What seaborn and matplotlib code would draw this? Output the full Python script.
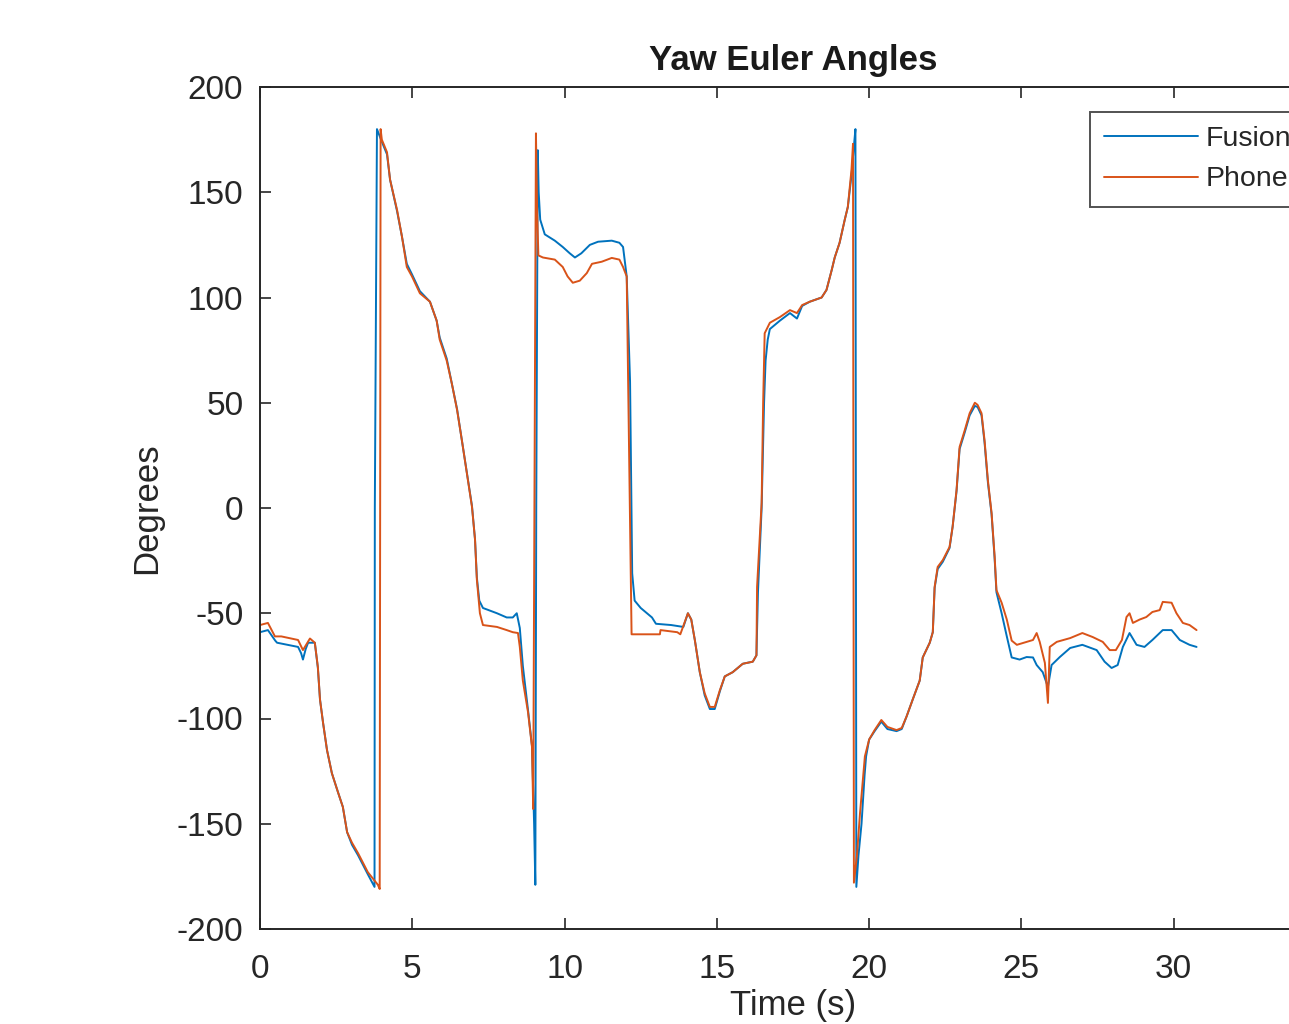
import numpy as np
import pandas as pd
import matplotlib
matplotlib.use("Agg")
import matplotlib.pyplot as plt
import seaborn as sns

# Yaw angle traces (time in s, angle in degrees)
fusion_t = [0.0, 0.26, 0.5, 0.56, 0.9, 1.25, 1.35, 1.41, 1.5, 1.58, 1.8, 1.9, 1.97, 2.07, 2.2, 2.36,
            2.56, 2.72, 2.86, 3.02, 3.22, 3.54, 3.76, 3.77, 3.84, 4.0, 4.17, 4.27, 4.5, 4.66, 4.82,
            4.99, 5.25, 5.58, 5.8, 5.9, 6.13, 6.3, 6.47, 6.63, 6.79, 6.96, 7.06, 7.12, 7.2, 7.32,
            7.78, 8.1, 8.3, 8.43, 8.53, 8.63, 8.8, 8.93, 9.0, 9.04, 9.07, 9.12, 9.15, 9.2, 9.35,
            9.68, 9.94, 10.17, 10.34, 10.55, 10.83, 11.1, 11.55, 11.8, 11.92, 12.04, 12.15, 12.22,
            12.3, 12.5, 12.87, 13.0, 13.5, 13.9, 14.05, 14.16, 14.28, 14.44, 14.6, 14.77, 14.93,
            15.1, 15.26, 15.52, 15.85, 16.18, 16.3, 16.35, 16.47, 16.55, 16.6, 16.67, 16.74, 17.07,
            17.4, 17.63, 17.8, 18.05, 18.44, 18.6, 18.77, 18.87, 19.03, 19.2, 19.3, 19.42, 19.5,
            19.55, 19.58, 19.65, 19.75, 19.85, 19.9, 20.0, 20.18, 20.4, 20.6, 20.9, 21.07, 21.23,
            21.43, 21.66, 21.76, 21.99, 22.09, 22.15, 22.25, 22.42, 22.64, 22.74, 22.87, 22.97,
            23.14, 23.3, 23.47, 23.56, 23.69, 23.79, 23.9, 24.02, 24.12, 24.18, 24.35, 24.52, 24.68,
            24.94, 25.17, 25.38, 25.5, 25.7, 25.87, 25.99, 26.26, 26.6, 27.0, 27.47, 27.73, 27.96,
            28.16, 28.33, 28.55, 28.78, 29.04, 29.3, 29.64, 29.93, 30.2, 30.52, 30.75]
fusion_deg = [-59, -58, -63, -64, -65, -66, -69, -72, -67, -64, -64, -76, -91, -102, -115, -126,
              -135, -142, -154, -160, -165, -174, -180, 0, 180, 174, 168, 156, 141, 129, 116,
              111, 103, 98, 89, 81, 71, 59, 47, 32, 17, 1, -15, -33, -44, -47.5,
              -50, -52, -52, -50, -57, -75, -96, -113, -150, -179, 0, 170, 150, 137, 130,
              127, 124, 121, 119, 121, 125, 126.5, 127, 126, 124, 110, 60, -31,
              -44, -47.5, -52, -55, -55.6, -56.5, -50, -53, -63, -78, -89, -95.5, -95.5,
              -87, -80, -78, -74, -73, -70, -40, 0, 50, 70, 80, 85, 89,
              92.6, 90, 96, 98, 100, 103.6, 113, 119, 126, 137, 143, 158, 172,
              180, -180, -165, -150, -127, -118, -110, -106, -101.5, -105, -106, -105, -99,
              -91, -82, -71, -64, -59, -38, -29, -25.5, -19, -9, 8, 28,
              36, 44, 48.5, 48, 44, 31, 12, -3, -24, -40, -50, -61, -71,
              -72, -70.8, -71, -74.6, -78, -85, -74.6, -70.8, -66.5, -65, -67.5, -73, -76,
              -74.6, -66, -59.4, -65, -66, -62.7, -58, -58, -62.7, -65, -66]

phone_t = [0.0, 0.26, 0.49, 0.7, 1.25, 1.41, 1.64, 1.8, 1.9, 1.97, 2.07, 2.2, 2.36, 2.56, 2.72,
           2.86, 3.02, 3.22, 3.54, 3.87, 3.93, 3.96, 4.0, 4.17, 4.27, 4.5, 4.66, 4.82, 4.99, 5.25,
           5.58, 5.8, 5.9, 6.13, 6.3, 6.47, 6.63, 6.79, 6.96, 7.06, 7.12, 7.22, 7.32, 7.78, 8.1,
           8.3, 8.47, 8.53, 8.63, 8.8, 8.93, 8.97, 9.06, 9.1, 9.14, 9.29, 9.68, 9.94, 10.1, 10.27,
           10.5, 10.73, 10.9, 11.22, 11.55, 11.8, 11.92, 12.04, 12.2, 12.3, 13.13, 13.15, 13.7,
           13.8, 14.05, 14.16, 14.28, 14.44, 14.6, 14.77, 14.93, 15.1, 15.26, 15.52, 15.85, 16.18,
           16.3, 16.32, 16.47, 16.52, 16.57, 16.74, 17.07, 17.4, 17.63, 17.8, 18.05, 18.44, 18.6,
           18.77, 18.87, 19.03, 19.2, 19.3, 19.42, 19.47, 19.5, 19.6, 19.7, 19.8, 19.86, 20.0,
           20.18, 20.4, 20.6, 20.9, 21.07, 21.23, 21.43, 21.66, 21.76, 21.99, 22.09, 22.15, 22.25,
           22.42, 22.64, 22.74, 22.87, 22.97, 23.14, 23.3, 23.47, 23.56, 23.69, 23.79, 23.9,
           24.02, 24.12, 24.18, 24.35, 24.52, 24.68, 24.85, 25.17, 25.38, 25.5, 25.6, 25.77,
           25.87, 25.93, 26.16, 26.6, 27.0, 27.34, 27.67, 27.9, 28.1, 28.3, 28.45, 28.55, 28.66,
           28.88, 29.1, 29.3, 29.54, 29.64, 29.93, 30.09, 30.3, 30.52, 30.75]
phone_deg = [-55.6, -54.6, -61, -61, -62.7, -67.5, -62, -64, -75.5, -91, -102, -115, -126, -135, -142,
             -154, -159, -164, -173, -179, -181, 180, 175, 169, 156, 141.6, 129, 114.5, 110, 102,
             98, 89, 80, 70, 59, 46.6, 32, 16.6, 0.5, -15, -34, -50, -55.6, -56.5, -58,
             -59, -59.4, -66, -82, -97, -113.5, -143, 178, 140, 120, 119, 118, 114.5, 110, 107,
             108, 111.6, 116, 117, 118.8, 118, 114.5, 110, -60, -60, -60, -58, -59,
             -60, -50, -53, -63, -78, -88, -94.5, -94.5, -86.5, -80, -78, -74, -73,
             -70, -37.5, 2.4, 50, 83, 88, 90.7, 94, 92.6, 96.4, 98, 100, 103.6,
             113, 119, 126, 137, 143, 160.6, 173, -178, -165, -145, -128, -118, -110,
             -105.5, -100.7, -104, -105.5, -104.5, -99, -91, -82, -71, -64, -59, -37.5, -28,
             -24.7, -18.5, -9, 8.6, 29, 37, 45, 50, 49, 45, 32, 13,
             -2.4, -23, -39, -45, -53, -63, -65, -63.6, -62.7, -59.4, -63.6, -73.6,
             -92.6, -66, -63.6, -61.8, -59.4, -61.3, -63.6, -67.5, -67.5, -62.7, -51.8, -50, -54.6,
             -53, -51.8, -49.4, -48.5, -44.6, -45, -50, -54.6, -55.6, -58]

series_names = ["Fusion", "Phone"]
series_colors = ["#0072BD", "#D95319"]
x_ticks = [0, 5, 10, 15, 20, 25, 30]
y_ticks = [-200, -150, -100, -50, 0, 50, 100, 150, 200]

df = pd.concat([
    pd.DataFrame({"t": fusion_t, "deg": fusion_deg, "series": series_names[0]}),
    pd.DataFrame({"t": phone_t, "deg": phone_deg, "series": series_names[1]}),
], ignore_index=True)

sns.set_theme(style="white")
plt.rcParams["font.family"] = ["Liberation Sans", "DejaVu Sans"]
plt.rcParams["axes.unicode_minus"] = False

axis_grey = "#262626"
fig = plt.figure(figsize=(12.89, 10.24), dpi=100)
fig.patch.set_facecolor("white")
# the axes run to t = 35, past the right edge of the canvas
ax = fig.add_axes([260 / 1289, 95 / 1024, 1066 / 1289, 842 / 1024])

sns.lineplot(data=df, x="t", y="deg", hue="series", hue_order=series_names,
             palette=series_colors, sort=False, estimator=None, linewidth=1.4, ax=ax)

ax.set_xlim(0, 35)
ax.set_ylim(-200, 200)
ax.set_xticks(x_ticks)
ax.set_yticks(y_ticks)
ax.tick_params(direction="in", length=8, width=1.2, colors=axis_grey, labelsize=24,
               top=True, right=True, bottom=True, left=True)
ax.tick_params(axis="x", pad=18)
ax.tick_params(axis="y", pad=12)
for sp in ax.spines.values():
    sp.set_color(axis_grey)
    sp.set_linewidth(1.4)

ax.set_title("Yaw Euler Angles", fontsize=25, fontweight="bold", color="#1a1a1a", pad=12)
ax.set_xlabel("Time (s)", fontsize=25, color=axis_grey, labelpad=3)
ax.set_ylabel("Degrees", fontsize=25, color=axis_grey, labelpad=10)

leg = ax.legend(loc="upper left", bbox_to_anchor=((1090 - 260) / 1066, 1 - (112 - 87) / 842),
                fontsize=20.5, frameon=True, fancybox=False, handlelength=3.3,
                handletextpad=0.25, labelspacing=0.5, borderpad=0.5, borderaxespad=0)
leg.get_frame().set_edgecolor(axis_grey)
leg.get_frame().set_linewidth(1.4)
for txt in leg.get_texts():
    txt.set_color(axis_grey)
for line in leg.get_lines():
    line.set_linewidth(1.4)

fig.savefig("out.png", dpi=100, facecolor="white")
